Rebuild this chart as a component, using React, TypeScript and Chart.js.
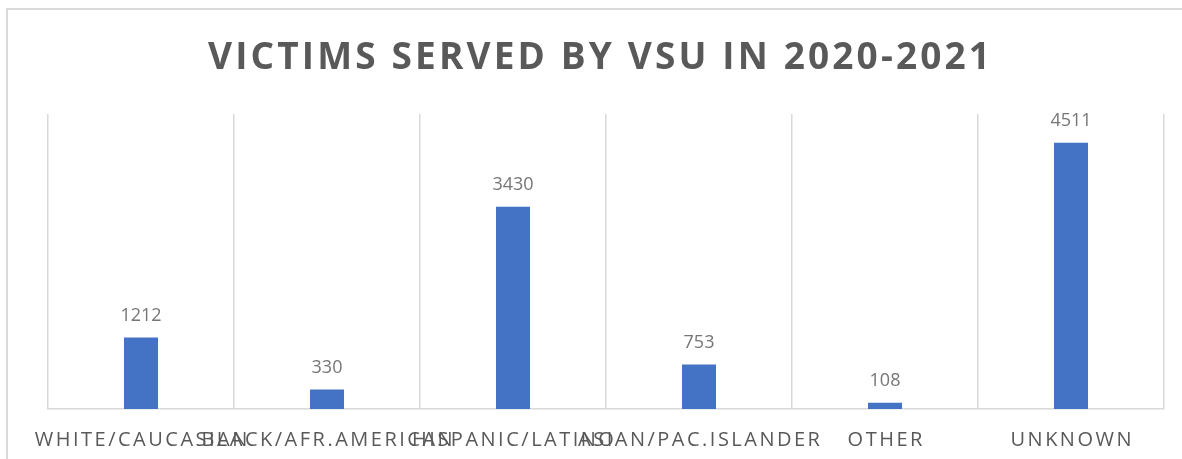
import React, { useEffect, useRef } from "react";
import { Chart, registerables } from "chart.js";

Chart.register(...registerables);

const categories: string[] = [
  "WHITE/CAUCASIAN",
  "BLACK/AFR.AMERICAN",
  "HISPANIC/LATINO",
  "ASIAN/PAC.ISLANDER",
  "OTHER",
  "UNKNOWN",
];
const victims: number[] = [1212, 330, 3430, 753, 108, 4511];
const titleText = "VICTIMS SERVED BY VSU IN 2020-2021";
const yMin = 0;
const yMax = 5000;

const textPlugin = {
  id: "excelText",
  afterDraw(chart: any) {
    const ctx = chart.ctx as CanvasRenderingContext2D;
    const xScale = chart.scales.x;
    ctx.save();

    // data labels
    ctx.font = '18px "Open Sans"';
    (ctx as any).letterSpacing = "0px";
    ctx.fillStyle = "#767676";
    ctx.textAlign = "center";
    ctx.textBaseline = "alphabetic";
    const meta = chart.getDatasetMeta(0);
    meta.data.forEach((bar: any, i: number) => {
      ctx.fillText(String(victims[i]), bar.x, bar.y - 16.5);
    });

    // category labels (letter-spaced)
    const sp = 2.5;
    ctx.font = '20px "Open Sans"';
    (ctx as any).letterSpacing = sp + "px";
    ctx.fillStyle = "#595959";
    ctx.textAlign = "left";
    categories.forEach((c, i) => {
      const w = ctx.measureText(c).width - sp;
      const cx = xScale.getPixelForValue(i);
      ctx.fillText(c, cx - w / 2, 446);
    });

    // title
    ctx.font = 'bold 37px "Open Sans"';
    (ctx as any).letterSpacing = "0px";
    const w0 = ctx.measureText(titleText).width;
    const target = 782;
    const ts = (target - w0) / (titleText.length - 1);
    (ctx as any).letterSpacing = ts + "px";
    ctx.fillStyle = "#595959";
    ctx.fillText(titleText, 599 - target / 2, 69);

    ctx.restore();
  },
};

export default function App() {
  const canvasRef = useRef<HTMLCanvasElement | null>(null);

  useEffect(() => {
    document.body.style.overflow = "hidden";
    const canvas = canvasRef.current;
    if (!canvas) return;
    const chart = new Chart(canvas, {
      type: "bar",
      data: {
        labels: categories,
        datasets: [
          {
            data: victims,
            backgroundColor: "#4472C4",
            borderWidth: 0,
            barPercentage: 0.183,
            categoryPercentage: 1,
          },
        ],
      },
      options: {
        animation: false,
        responsive: false,
        devicePixelRatio: 1,
        layout: { padding: { left: 48, right: 18, top: 114, bottom: 50 } },
        plugins: {
          legend: { display: false },
          title: { display: false },
          tooltip: { enabled: false },
        },
        scales: {
          x: {
            display: true,
            grid: {
              display: true,
              offset: true,
              color: "#d9d9d9",
              lineWidth: 1.5,
              drawTicks: false,
            },
            border: { display: true, color: "#d9d9d9", width: 1.5 },
            ticks: { display: false },
          },
          y: {
            display: false,
            min: yMin,
            max: yMax,
          },
        },
      },
      plugins: [textPlugin],
    });
    return () => chart.destroy();
  }, []);

  return (
    <div
      style={{
        position: "fixed",
        left: 0,
        top: 0,
        width: 1182,
        height: 459,
        overflow: "hidden",
        background: "#fff",
      }}
    >
      <div
        style={{
          position: "absolute",
          left: 6,
          top: 8,
          width: 1300,
          height: 600,
          borderLeft: "2px solid #d9d9d9",
          borderTop: "2px solid #d9d9d9",
        }}
      />
      <canvas
        ref={canvasRef}
        width={1182}
        height={459}
        style={{ position: "absolute", left: 0, top: 0, width: 1182, height: 459 }}
      />
    </div>
  );
}
